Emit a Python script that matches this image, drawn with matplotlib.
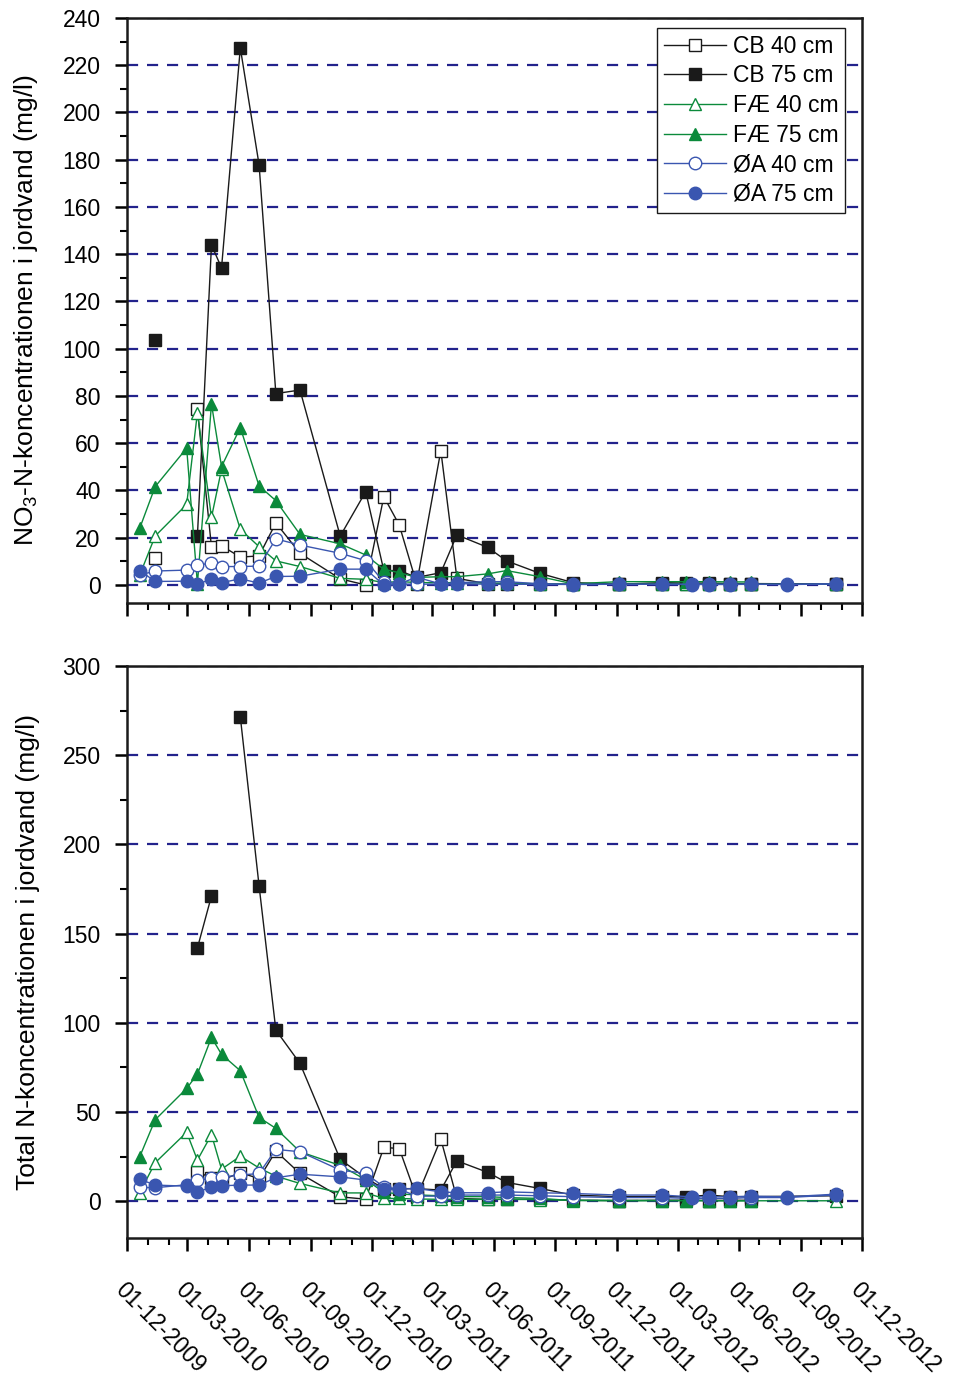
import numpy as np
import matplotlib
matplotlib.use("Agg")
import matplotlib.pyplot as plt
import matplotlib.dates as mdates
from matplotlib.ticker import MultipleLocator
import datetime as dt

plt.rcParams['font.family'] = ['Liberation Sans', 'DejaVu Sans']
plt.rcParams['mathtext.fontset'] = 'custom'
plt.rcParams['mathtext.rm'] = 'Liberation Sans'

nan = np.nan

# sampling dates, CB and FÆ sites
dates_cb_fae = ['2009-12-20', '2010-01-12', '2010-02-28', '2010-03-16', '2010-04-06',
                '2010-04-21', '2010-05-19', '2010-06-16', '2010-07-11', '2010-08-16',
                '2010-10-15', '2010-11-22', '2010-12-19', '2011-01-11', '2011-02-06',
                '2011-03-14', '2011-04-07', '2011-05-23', '2011-06-20', '2011-08-09',
                '2011-09-27', '2011-12-04', '2012-02-07', '2012-03-13', '2012-04-17',
                '2012-05-18', '2012-06-18', '2012-10-23']
# sampling dates, ØA site
dates_oa = ['2009-12-20', '2010-01-12', '2010-02-28', '2010-03-16', '2010-04-06',
            '2010-04-21', '2010-05-19', '2010-06-16', '2010-07-11', '2010-08-16',
            '2010-10-15', '2010-11-22', '2010-12-19', '2011-01-11', '2011-02-06',
            '2011-03-14', '2011-04-07', '2011-05-23', '2011-06-20', '2011-08-09',
            '2011-09-27', '2011-12-04', '2012-02-07', '2012-03-22', '2012-04-17',
            '2012-05-18', '2012-06-18', '2012-08-11', '2012-10-23']

# NO3-N (mg/l)
no3_cb40 = [nan, 11.3, nan, 74.5, 16.0, 16.6, 11.8, 12.3, 26.3, 13.4, 2.6, 0.0, 37.4, 25.4,
            0.5, 56.9, 2.8, 0.5, 0.5, 0.5, 0.3, 0.3, 0.5, 0.3, 0.3, 0.3, 0.3, 0.5]
no3_cb75 = [nan, 103.6, nan, 20.6, 143.9, 134.2, 227.3, 177.8, 81.0, 82.5, 20.7, 39.5, 6.1,
            6.1, 3.2, 5.2, 21.2, 15.9, 10.2, 4.9, 1.0, 0.3, 1.0, 0.8, 0.8, 0.6, 0.6, 0.4]
no3_fae40 = [4.2, 20.7, 34.1, 72.9, 28.6, 49.0, 23.6, 16.2, 10.2, 7.8, 2.8, 2.4, 1.0, 1.5,
             1.0, 1.0, 1.0, 0.8, 0.8, 0.5, 0.3, 0.3, 0.3, 0.3, 0.3, 0.3, 0.3, 0.3]
no3_fae75 = [24.0, 41.6, 57.9, 0.5, 76.6, 50.1, 66.6, 41.9, 35.7, 21.4, 17.4, 12.7, 6.6, 5.2,
             3.2, 3.5, 3.5, 4.7, 6.1, 3.5, 0.5, 1.4, 1.4, 1.4, 1.4, 1.3, 1.3, nan]
no3_oa40 = [4.2, 5.9, 6.3, 8.5, 9.2, 7.8, 7.8, 8.0, 19.5, 16.9, 13.4, 10.3, 1.3, 0.4, 0.3,
            0.4, 1.0, 1.4, 1.4, 0.5, 0.3, 0.3, 0.3, 0.3, 0.3, 0.3, 0.3, 0.3, 0.5]
no3_oa75 = [6.1, 1.5, 1.6, 0.3, 2.5, 1.0, 2.6, 0.8, 3.6, 3.7, 6.7, 6.7, 0.0, 0.5, 3.3, 0.4,
            0.6, 0.3, 0.3, 0.3, 0.2, 0.3, 0.3, 0.2, 0.2, 0.2, 0.3, 0.2, 0.4]

# Total N (mg/l)
totn_cb40 = [nan, nan, nan, 16.4, 13.0, 11.8, 15.9, 12.7, 28.0, 15.5, 2.4, 1.1, 30.1, 29.5,
             2.1, 34.8, 1.5, 1.0, 1.0, 1.0, 0.5, 0.3, 0.5, 0.5, 0.3, 0.5, 0.5, nan]
totn_cb75 = [nan, nan, nan, 141.9, 171.1, nan, 271.5, 176.7, 95.9, 77.2, 23.4, 13.0, 7.0,
             7.0, 7.0, 6.2, 22.6, 16.1, 10.5, 7.1, 3.4, 2.5, 2.5, 2.4, 3.4, 2.5, 2.5, 3.0]
totn_fae40 = [4.8, 21.5, 38.6, 23.0, 37.3, 17.9, 25.2, 18.6, 14.0, 9.9, 4.6, 4.6, 1.5, 1.5,
              1.2, 1.0, 1.0, 1.0, 1.0, 0.9, 0.5, 0.3, 0.3, 0.3, 0.3, 0.2, 0.2, 0.2]
totn_fae75 = [24.9, 45.6, 63.2, 71.2, 91.8, 82.3, 73.1, 46.9, 40.8, 27.7, 20.0, 12.0, 5.0,
              4.0, 3.5, 3.0, 2.5, 2.5, 2.0, 1.5, 0.3, 0.3, 0.3, 0.3, 0.3, 0.2, 0.2, nan]
totn_oa40 = [7.7, 7.5, 9.2, 11.8, 12.7, 13.5, 14.6, 15.5, 29.0, 27.7, 17.4, 15.5, 8.0, 6.7,
             2.8, 2.8, 3.4, 3.4, 3.4, 3.0, 2.5, 2.0, 2.0, 1.5, 1.5, 1.5, 2.0, 2.0, 3.5]
totn_oa75 = [12.3, 9.0, 8.4, 5.2, 7.7, 8.6, 9.0, 9.0, 13.1, 15.1, 13.6, 11.8, 6.7, 6.7, 7.1,
             5.2, 4.7, 4.7, 5.2, 4.7, 4.3, 3.4, 3.4, 2.4, 2.4, 2.4, 2.8, 2.4, 3.9]

tick_dates = ['2009-12-01', '2010-03-01', '2010-06-01', '2010-09-01', '2010-12-01',
              '2011-03-01', '2011-06-01', '2011-09-01', '2011-12-01', '2012-03-01',
              '2012-06-01', '2012-09-01', '2012-12-01']

BLACK = '#1a1a1a'
GREEN = '#0b8a3b'
BLUE = '#3a56b0'
GRID = '#23238c'


def to_dates(lst):
    return [dt.datetime.strptime(s, '%Y-%m-%d') for s in lst]


def draw_series(ax, series):
    x_cf = to_dates(dates_cb_fae)
    x_oa = to_dates(dates_oa)
    styles = [
        ('CB 40 cm', x_cf, series[0], BLACK, 's', 'white'),
        ('CB 75 cm', x_cf, series[1], BLACK, 's', BLACK),
        ('FÆ 40 cm', x_cf, series[2], GREEN, '^', 'white'),
        ('FÆ 75 cm', x_cf, series[3], GREEN, '^', GREEN),
        ('ØA 40 cm', x_oa, series[4], BLUE, 'o', 'white'),
        ('ØA 75 cm', x_oa, series[5], BLUE, 'o', BLUE),
    ]
    for label, x, y, col, mk, fc in styles:
        ax.plot(x, np.array(y, dtype=float), color=col, lw=1.0, marker=mk,
                ms=9 if mk == 'o' else 8.5, mfc=fc, mec=col, mew=1.0, label=label,
                clip_on=False, zorder=3)


def style_axes(ax, ymin, ymax, major, minor):
    ax.set_xlim(dt.datetime(2009, 12, 1), dt.datetime(2012, 12, 1))
    ax.set_ylim(ymin, ymax)
    ax.yaxis.set_major_locator(MultipleLocator(major))
    ax.yaxis.set_minor_locator(MultipleLocator(minor))
    ax.set_xticks(to_dates(tick_dates))
    ax.xaxis.set_minor_locator(mdates.MonthLocator())
    for s in ax.spines.values():
        s.set_linewidth(1.8)
        s.set_color('#1a1a1a')
    ax.tick_params(axis='both', which='major', direction='out', length=9, width=1.8,
                   labelsize=16.5, top=False, right=False)
    ax.tick_params(axis='y', which='major', pad=10)
    ax.tick_params(axis='both', which='minor', direction='out', length=5, width=1.5,
                   top=False, right=False)
    for v in np.arange(0, ymax + 0.1, major):
        ax.axhline(v, color=GRID, lw=1.6, ls=(0, (5, 4)), zorder=1)


fig = plt.figure(figsize=(9.62, 13.75), dpi=100)
ax1 = fig.add_axes([0.132, 0.5615, 0.764, 0.4255])
ax2 = fig.add_axes([0.132, 0.0996, 0.764, 0.416])

draw_series(ax1, [no3_cb40, no3_cb75, no3_fae40, no3_fae75, no3_oa40, no3_oa75])
style_axes(ax1, -7.6, 240, 20, 10)
ax1.set_xticklabels([])
ax1.set_ylabel('NO$_3$-N-koncentrationen i jordvand (mg/l)', fontsize=19)
ax1.yaxis.set_label_coords(-0.118, 0.5)

leg = ax1.legend(loc='upper right', fontsize=16.5, frameon=True, fancybox=False,
                 edgecolor='#1a1a1a', framealpha=1, handlelength=2.7,
                 borderpad=0.3, labelspacing=0.29, handletextpad=0.3,
                 borderaxespad=0, bbox_to_anchor=(0.977, 0.983))
leg.get_frame().set_linewidth(1.0)

draw_series(ax2, [totn_cb40, totn_cb75, totn_fae40, totn_fae75, totn_oa40, totn_oa75])
style_axes(ax2, -20.7, 300, 50, 25)
ax2.set_xticklabels([d.strftime('%d-%m-%Y') for d in to_dates(tick_dates)],
                    rotation=-45, ha='left', va='top', rotation_mode='anchor', fontsize=16.5)
ax2.tick_params(axis='x', which='major', pad=20)
ax2.set_ylabel('Total N-koncentrationen i jordvand (mg/l)', fontsize=19)
ax2.yaxis.set_label_coords(-0.118, 0.5)

fig.savefig('out.png', dpi=100)
